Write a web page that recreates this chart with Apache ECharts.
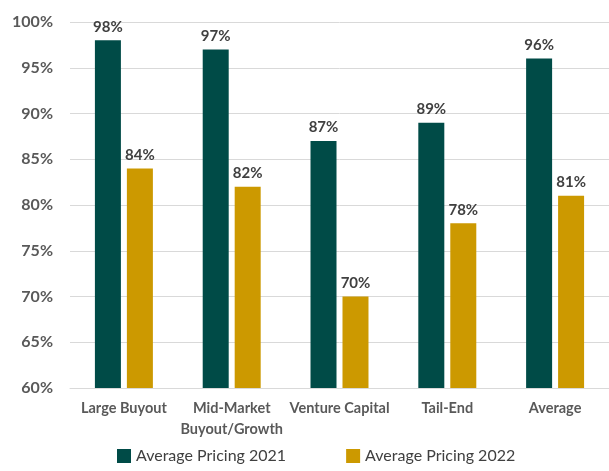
<!DOCTYPE html>
<html>
<head>
<meta charset="utf-8">
<script src="https://cdn.jsdelivr.net/npm/echarts@6/dist/echarts.min.js"></script>
<style>
  html, body { margin: 0; padding: 0; background: #fff; }
  #main { width: 609px; height: 471px; }
</style>
</head>
<body>
<div id="main"></div>
<script>
const categories = ['Large Buyout', 'Mid-Market\nBuyout/Growth', 'Venture Capital', 'Tail-End', 'Average'];
const pricing2021 = [98, 97, 87, 89, 96];
const pricing2022 = [84, 82, 70, 78, 81];

const chart = echarts.init(document.getElementById('main'));
const labelStyle = {
  show: true,
  position: 'top',
  distance: 6,
  formatter: '{c}%',
  fontFamily: 'Lato',
  fontWeight: 'bold',
  fontSize: 15,
  color: '#404040'
};
chart.setOption({
  animation: false,
  grid: { left: 70, right: -6, top: 22, bottom: 83 },
  legend: {
    bottom: 2,
    left: 112,
    itemGap: 60,
    itemWidth: 14,
    itemHeight: 14,
    icon: 'rect',
    textStyle: { fontFamily: 'Lato', fontSize: 16, color: '#404040' },
    data: ['Average Pricing 2021', 'Average Pricing 2022']
  },
  xAxis: {
    type: 'category',
    data: categories,
    axisTick: { show: false },
    axisLine: { lineStyle: { color: '#d9d9d9', width: 1 } },
    axisLabel: {
      interval: 0,
      margin: 10,
      lineHeight: 21,
      fontFamily: 'Lato',
      fontWeight: 'bold',
      fontSize: 14.5,
      color: '#595959'
    }
  },
  yAxis: {
    type: 'value',
    min: 60,
    max: 100,
    interval: 5,
    axisLine: { show: false },
    axisTick: { show: false },
    splitLine: { lineStyle: { color: '#d9d9d9', width: 1 } },
    axisLabel: {
      formatter: '{value}%',
      margin: 17,
      fontFamily: 'Lato',
      fontWeight: 'bold',
      fontSize: 16,
      color: '#595959'
    }
  },
  series: [
    {
      name: 'Average Pricing 2021',
      type: 'bar',
      data: pricing2021,
      barWidth: 26,
      barGap: '23%',
      itemStyle: { color: '#004b47' },
      label: labelStyle
    },
    {
      name: 'Average Pricing 2022',
      type: 'bar',
      data: pricing2022,
      barWidth: 26,
      itemStyle: { color: '#cc9900' },
      label: labelStyle
    }
  ]
});
</script>
</body>
</html>
